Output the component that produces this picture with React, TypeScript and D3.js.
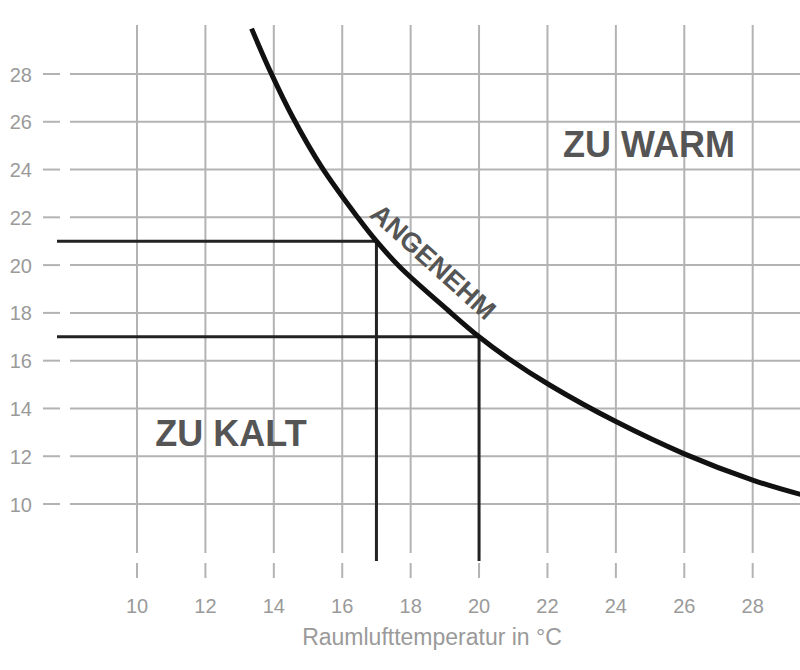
import React from "react";
import * as d3 from "d3";

// Axis ticks
const xTicks = [10, 12, 14, 16, 18, 20, 22, 24, 26, 28];
const yTicks = [10, 12, 14, 16, 18, 20, 22, 24, 26, 28];

// Comfort curve: room air temperature (x) vs. surface temperature (y)
const curveRoomTemp = [13.35, 13.9, 14.55, 15.4, 16.45, 17, 17.7, 19.1, 20, 20.8, 22.1, 24, 26, 28, 29.4];
const curveSurfaceTemp = [29.9, 28.1, 26.2, 24.1, 22.0, 21, 19.9, 18.1, 17, 16.15, 14.95, 13.45, 12.1, 11.0, 10.4];

// Example reading points on the curve
const markerRoomTemp = [17, 20];
const markerSurfaceTemp = [21, 17];

// Labels
const labelWarm = "ZU WARM";
const labelCold = "ZU KALT";
const labelComfort = "ANGENEHM";
const xTitle = "Raumlufttemperatur in °C";

const W = 800;
const H = 670;
const FONT = "'Liberation Sans', Arial, Helvetica, sans-serif";

export default function App() {
  const x = d3.scaleLinear().domain([10, 28]).range([137, 752.7]);
  const y = d3.scaleLinear().domain([10, 28]).range([504, 74]);

  const gridLeft = 70;
  const gridRight = W;
  const gridTop = 25;
  const gridBottom = 553;
  const refLeft = 57;
  const refBottom = 561;

  const pts: [number, number][] = curveRoomTemp.map((u, i) => [u, curveSurfaceTemp[i]]);
  const line = d3
    .line<[number, number]>()
    .x((d) => x(d[0]))
    .y((d) => y(d[1]))
    .curve(d3.curveCatmullRom.alpha(0.5));

  const gridColor = "#b3b3b3";
  const labelColor = "#9a9a9a";
  const darkText = "#555555";

  return (
    <svg
      width={W}
      height={H}
      style={{ position: "absolute", left: 0, top: 0, background: "#fff" }}
    >
      <rect x={0} y={0} width={W} height={H} fill="#fff" />
      {/* horizontal grid + y ticks */}
      {yTicks.map((t) => (
        <g key={"y" + t}>
          <line x1={gridLeft} x2={gridRight} y1={y(t)} y2={y(t)} stroke={gridColor} strokeWidth={2} />
          <line x1={43} x2={60} y1={y(t)} y2={y(t)} stroke={gridColor} strokeWidth={2} />
          <text
            x={32}
            y={y(t) + 7.5}
            textAnchor="end"
            fontFamily={FONT}
            fontSize={20}
            fill={labelColor}
          >
            {t}
          </text>
        </g>
      ))}
      {/* vertical grid + x ticks */}
      {xTicks.map((t) => (
        <g key={"x" + t}>
          <line x1={x(t)} x2={x(t)} y1={gridTop} y2={gridBottom} stroke={gridColor} strokeWidth={2} />
          <line x1={x(t)} x2={x(t)} y1={563} y2={578} stroke={gridColor} strokeWidth={2} />
          <text
            x={x(t)}
            y={613}
            textAnchor="middle"
            fontFamily={FONT}
            fontSize={20}
            fill={labelColor}
          >
            {t}
          </text>
        </g>
      ))}
      <text
        x={432}
        y={645}
        textAnchor="middle"
        fontFamily={FONT}
        fontSize={23}
        fill={labelColor}
      >
        {xTitle}
      </text>

      {/* reference lines */}
      {markerRoomTemp.map((u, i) => (
        <g key={"m" + i}>
          <line
            x1={refLeft}
            x2={x(u)}
            y1={y(markerSurfaceTemp[i])}
            y2={y(markerSurfaceTemp[i])}
            stroke="#222"
            strokeWidth={3}
          />
          <line
            x1={x(u)}
            x2={x(u)}
            y1={y(markerSurfaceTemp[i])}
            y2={refBottom}
            stroke="#222"
            strokeWidth={3}
          />
        </g>
      ))}

      {/* comfort curve */}
      <path d={line(pts) || ""} fill="none" stroke="#111" strokeWidth={5} />

      {/* region labels */}
      <text x={649} y={157} textAnchor="middle" fontFamily={FONT} fontWeight="bold" fontSize={36} fill={darkText}>
        {labelWarm}
      </text>
      <text x={231} y={446} textAnchor="middle" fontFamily={FONT} fontWeight="bold" fontSize={36} fill={darkText}>
        {labelCold}
      </text>
      <text
        x={0}
        y={0}
        transform={`translate(433,262) rotate(42)`}
        textAnchor="middle"
        dominantBaseline="central"
        fontFamily={FONT}
        fontWeight="bold"
        fontSize={27}
        fill={darkText}
      >
        {labelComfort}
      </text>
    </svg>
  );
}
